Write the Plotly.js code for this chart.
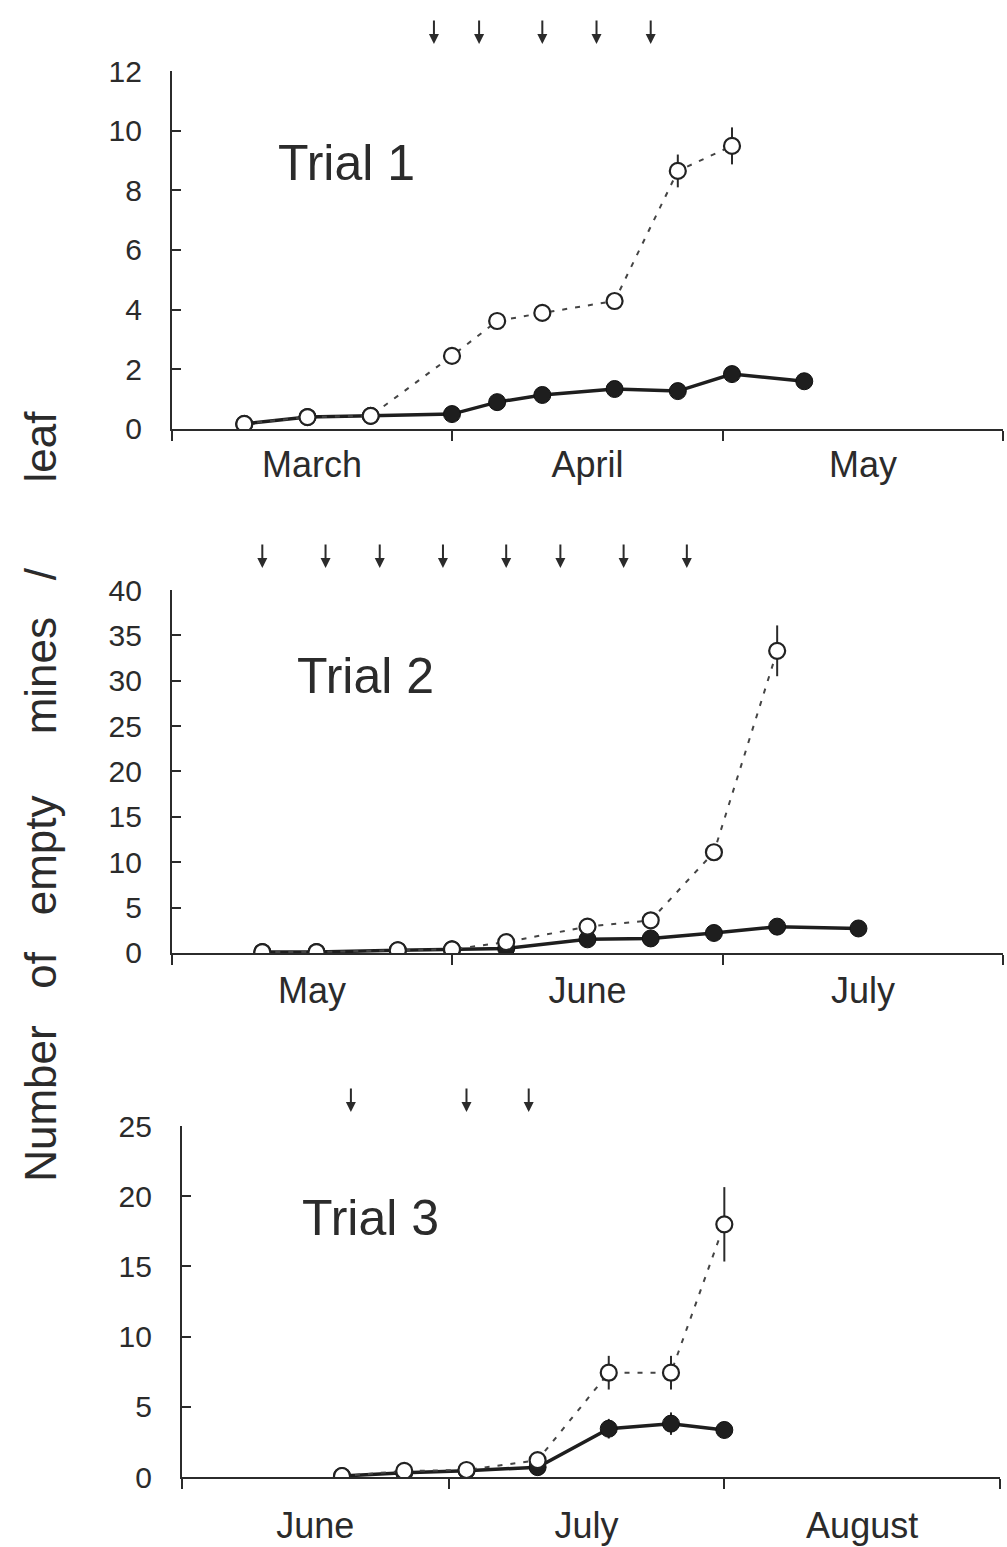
<!DOCTYPE html>
<html><head><meta charset="utf-8">
<script src="https://cdn.plot.ly/plotly-3.0.1.min.js"></script>
<style>html,body{margin:0;padding:0;background:#fff}#chart{width:1007px;height:1547px}</style>
</head><body><div id="chart"></div>
<script>
// ---------- Trial 1 (March - May) ----------
const t1Dates      = ['2001-03-09','2001-03-16','2001-03-23','2001-04-01','2001-04-06','2001-04-11','2001-04-19','2001-04-26','2001-05-02','2001-05-10'];
const t1Filled     = [0.17, 0.40, 0.44, 0.50, 0.90, 1.14, 1.34, 1.27, 1.84, 1.60];
const t1FilledErr  = [0, 0, 0, 0, 0, 0, 0, 0, 0, 0];
const t1OpenDates  = ['2001-03-09','2001-03-16','2001-03-23','2001-04-01','2001-04-06','2001-04-11','2001-04-19','2001-04-26','2001-05-02'];
const t1Open       = [0.17, 0.40, 0.44, 2.45, 3.62, 3.89, 4.29, 8.65, 9.49];
const t1OpenErr    = [0, 0, 0, 0, 0, 0, 0, 0.55, 0.62];
const t1Arrows     = ['2001-03-30','2001-04-04','2001-04-11','2001-04-17','2001-04-23'];

// ---------- Trial 2 (May - July) ----------
const t2Dates      = ['2001-05-11','2001-05-17','2001-05-26','2001-06-01','2001-06-07','2001-06-16','2001-06-23','2001-06-30','2001-07-07','2001-07-16'];
const t2Filled     = [0.1, 0.1, 0.3, 0.4, 0.5, 1.5, 1.6, 2.2, 2.9, 2.7];
const t2FilledErr  = [0, 0, 0, 0, 0, 0, 0, 0, 0, 0];
const t2OpenDates  = ['2001-05-11','2001-05-17','2001-05-26','2001-06-01','2001-06-07','2001-06-16','2001-06-23','2001-06-30','2001-07-07'];
const t2Open       = [0.1, 0.1, 0.3, 0.4, 1.2, 2.9, 3.6, 11.1, 33.3];
const t2OpenErr    = [0, 0, 0, 0, 0, 0, 0, 0, 2.8];
const t2Arrows     = ['2001-05-11','2001-05-18','2001-05-24','2001-05-31','2001-06-07','2001-06-13','2001-06-20','2001-06-27'];

// ---------- Trial 3 (June - August) ----------
const t3Dates      = ['2001-06-19','2001-06-26','2001-07-03','2001-07-11','2001-07-19','2001-07-26','2001-08-01'];
const t3Filled     = [0.07, 0.30, 0.45, 0.70, 3.44, 3.80, 3.35];
const t3FilledErr  = [0, 0, 0, 0, 0.7, 0.8, 0.6];
const t3OpenDates  = ['2001-06-19','2001-06-26','2001-07-03','2001-07-11','2001-07-19','2001-07-26','2001-08-01'];
const t3Open       = [0.07, 0.43, 0.50, 1.20, 7.43, 7.43, 18.0];
const t3OpenErr    = [0, 0, 0, 0, 1.2, 1.2, 2.65];
const t3Arrows     = ['2001-06-20','2001-07-03','2001-07-10'];

const trialNames = ['Trial 1', 'Trial 2', 'Trial 3'];
const yTitleWords = ['Number', 'of', 'empty', 'mines', '/', 'leaf'];

const INK = '#2b2b2b';
const FONT = 'Liberation Sans, Arial, sans-serif';

function filledTrace(x, y, err, xa, ya) {
  return {
    type: 'scatter', mode: 'lines+markers', x: x, y: y, xaxis: xa, yaxis: ya,
    line: {color: '#1e1e1e', width: 3.5},
    marker: {symbol: 'circle', size: 17, color: '#1e1e1e', line: {color: '#111', width: 1}},
    error_y: {type: 'data', array: err, visible: true, color: INK, thickness: 2, width: 0},
    showlegend: false, hoverinfo: 'x+y'
  };
}
function openTrace(x, y, err, xa, ya) {
  return {
    type: 'scatter', mode: 'lines+markers', x: x, y: y, xaxis: xa, yaxis: ya,
    line: {color: '#444', width: 2, dash: '5px,8px'},
    marker: {symbol: 'circle', size: 16, color: '#fff', line: {color: '#222', width: 2.2}},
    error_y: {type: 'data', array: err, visible: true, color: INK, thickness: 2, width: 0},
    showlegend: false, hoverinfo: 'x+y'
  };
}

const data = [
  filledTrace(t1Dates, t1Filled, t1FilledErr, 'x', 'y'),
  openTrace(t1OpenDates, t1Open, t1OpenErr, 'x', 'y'),
  filledTrace(t2Dates, t2Filled, t2FilledErr, 'x2', 'y2'),
  openTrace(t2OpenDates, t2Open, t2OpenErr, 'x2', 'y2'),
  filledTrace(t3Dates, t3Filled, t3FilledErr, 'x3', 'y3'),
  openTrace(t3OpenDates, t3Open, t3OpenErr, 'x3', 'y3')
];

function xAxis(domain, range, anchor, standoff) {
  return {
    type: 'date', domain: domain, range: range, anchor: anchor,
    tick0: range[0], dtick: 'M1', tickformat: '%B', ticklabelmode: 'period',
    ticks: 'outside', ticklen: 10, tickwidth: 2, tickcolor: INK,
    showline: true, linecolor: INK, linewidth: 2,
    showgrid: false, zeroline: false, ticklabelstandoff: standoff,
    tickfont: {family: FONT, size: 36, color: INK}
  };
}
function yAxis(domain, range, dtick, anchor) {
  return {
    domain: domain, range: range, dtick: dtick, anchor: anchor,
    ticks: 'inside', ticklen: 9, tickwidth: 2, tickcolor: INK,
    showline: true, linecolor: INK, linewidth: 2,
    showgrid: false, zeroline: false, ticklabelstandoff: 22,
    tickfont: {family: FONT, size: 30, color: INK}
  };
}

const annotations = [];
function addArrows(dates, xa, yTip) {
  dates.forEach(d => annotations.push({
    x: d, xref: xa, y: yTip, yref: 'paper', text: '', showarrow: true,
    ax: 0, ay: -25, arrowhead: 2, arrowsize: 1, arrowwidth: 2, arrowcolor: INK
  }));
}
addArrows(t1Arrows, 'x', 0.9716);
addArrows(t2Arrows, 'x2', 0.6329);
addArrows(t3Arrows, 'x3', 0.2812);

const trialPos = [[0.274, 0.8946], [0.293, 0.5630], [0.298, 0.2127]];
trialNames.forEach((t, i) => annotations.push({
  text: t, xref: 'paper', yref: 'paper', x: trialPos[i][0], y: trialPos[i][1],
  xanchor: 'left', yanchor: 'middle', showarrow: false,
  font: {family: FONT, size: 50, color: INK}
}));

// wide word spacing as in the original axis title
const gaps = [3, 3, 5, 3, 7];
let yTitle = yTitleWords[0];
for (let i = 1; i < yTitleWords.length; i++) yTitle += '\u00a0'.repeat(gaps[i - 1]) + yTitleWords[i];
annotations.push({
  text: yTitle,
  xref: 'paper', yref: 'paper', x: 0.040, y: 0.4851, xanchor: 'center', yanchor: 'middle',
  textangle: -90, showarrow: false, font: {family: FONT, size: 44, color: INK}
});

const layout = {
  width: 1007, height: 1547,
  margin: {l: 0, r: 0, t: 0, b: 0},
  paper_bgcolor: '#fff', plot_bgcolor: '#fff',
  showlegend: false,
  xaxis:  xAxis([0.1708, 0.9960], ['2001-03-01', '2001-06-01'], 'y', -7),
  yaxis:  yAxis([0.7227, 0.9541], [0, 12], 2, 'x'),
  xaxis2: xAxis([0.1708, 0.9960], ['2001-05-01', '2001-08-01'], 'y2', -5),
  yaxis2: yAxis([0.3840, 0.6186], [0, 40], 5, 'x2'),
  xaxis3: xAxis([0.1807, 0.9930], ['2001-06-01', '2001-09-01'], 'y3', 6),
  yaxis3: yAxis([0.04525, 0.2721], [0, 25], 5, 'x3'),
  annotations: annotations
};

Plotly.newPlot('chart', data, layout, {displayModeBar: false, staticPlot: true});
</script>
</body></html>
